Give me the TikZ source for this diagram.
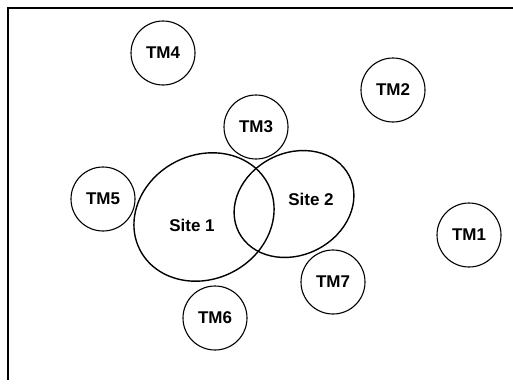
\documentclass[tikz,border=0pt]{standalone}
\usepackage{fontspec}
\setmainfont{Liberation Sans}
\usetikzlibrary{shapes.geometric}
\tikzset{
  tm/.style={circle, draw=black, line width=1.1pt, minimum size=64pt, inner sep=0pt, font=\fontsize{17}{17}\selectfont\bfseries},
  site/.style={ellipse, draw=black, line width=1.4pt, inner sep=0pt},
  sitelabel/.style={font=\fontsize{17}{17}\selectfont\bfseries, inner sep=0pt}
}

\begin{document}
\begin{tikzpicture}[x=1pt, y=-1pt]

        \useasboundingbox (0,0) rectangle (513,383);

        % Marco (solo izquierda y arriba visibles)
        \coordinate (FBL) at (8,380);
        \coordinate (FTL) at (8,8);
        \coordinate (FTR) at (513,8);
        \draw[line width=1.6pt] (FBL) -- (FTL) -- (FTR);

        % Sitios
        \node[site, minimum width=144pt, minimum height=124pt, rotate=27] (site1) at (204,217) {};
        \node[site, minimum width=124pt, minimum height=102pt, rotate=27] (site2) at (294,204) {};
        \node[sitelabel] (site1text) at (192,225) {Site 1};
        \node[sitelabel] (site2text) at (311,199) {Site 2};

        % Terminales
        \node[tm] (tm1) at (469,235) {TM1};
        \node[tm] (tm2) at (393,90) {TM2};
        \node[tm] (tm3) at (256,127) {TM3};
        \node[tm] (tm4) at (163,53) {TM4};
        \node[tm] (tm5) at (103,199) {TM5};
        \node[tm] (tm6) at (215,318) {TM6};
        \node[tm] (tm7) at (333,282) {TM7};

    \end{tikzpicture}
\end{document}
